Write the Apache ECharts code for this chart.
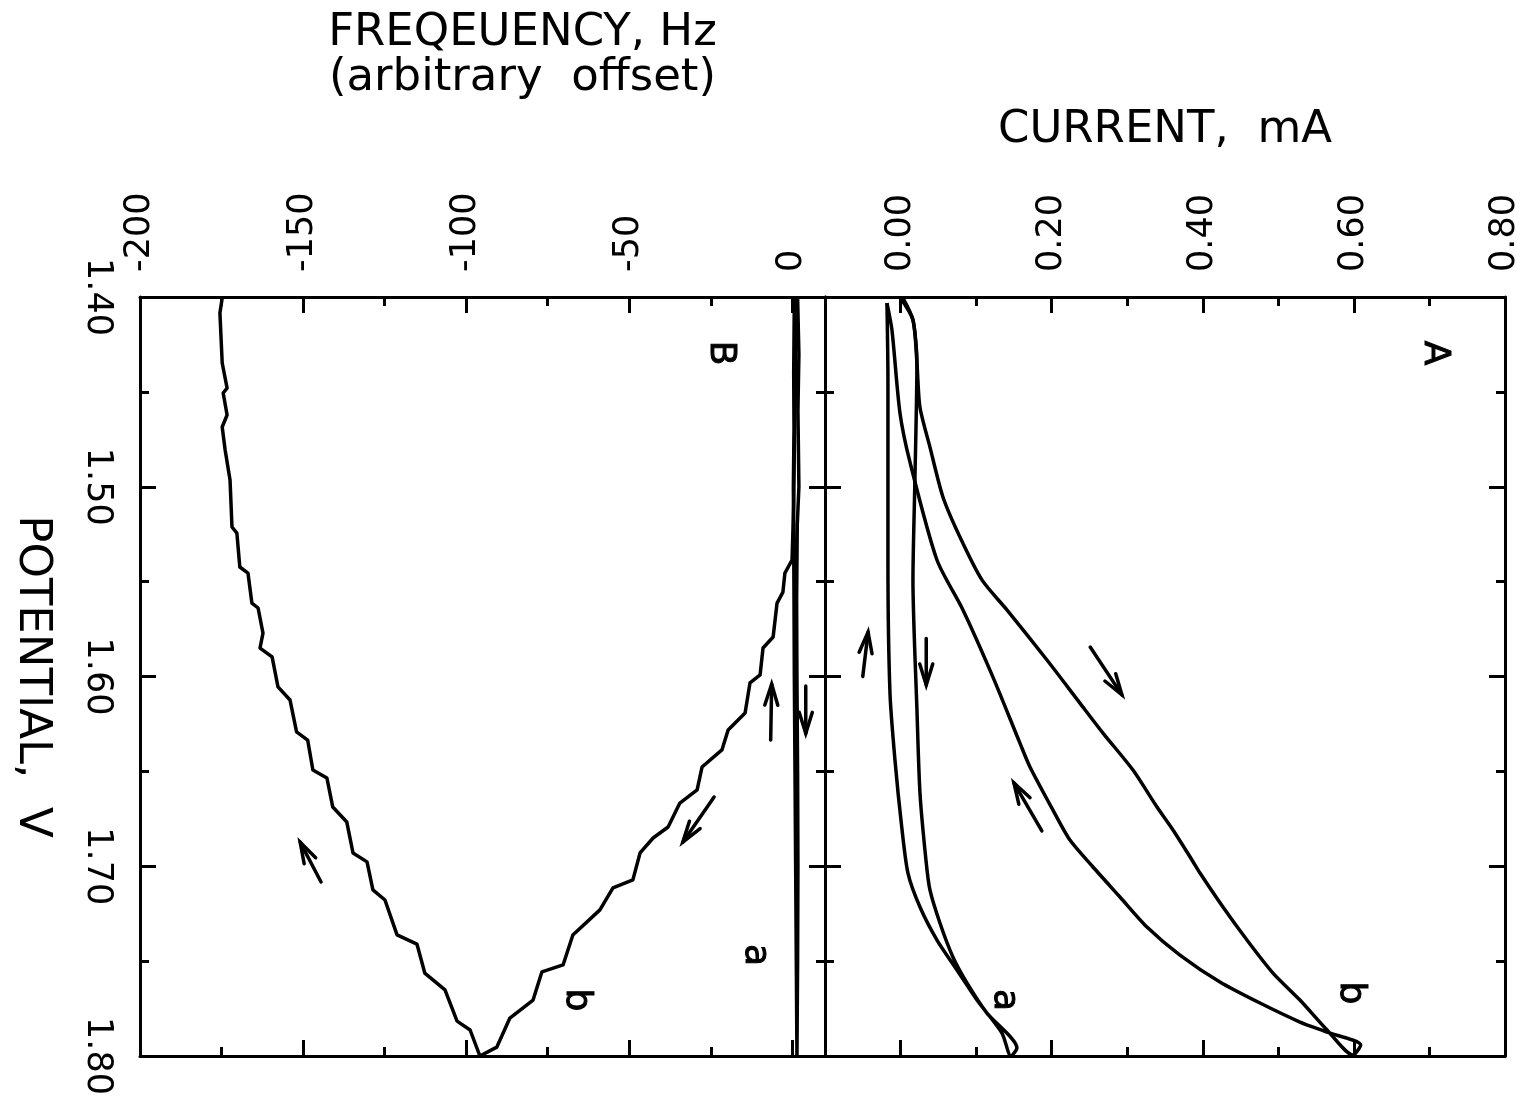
<!DOCTYPE html>
<html><head><meta charset="utf-8">
<script src="https://cdn.jsdelivr.net/npm/echarts@6/dist/echarts.min.js"></script>
<style>html,body{margin:0;padding:0;background:#fff}#c{width:1537px;height:1101px}</style>
</head><body><div id="c"></div>
<script>
// ---------- axis ticks / labels ----------
const potentialRange = [1.40, 1.80];
const freqRange = [-200, 10];
const freqMajor = [-200, -150, -100, -50, 0];
const freqMinor = [-175, -125, -75, -25];
const currRange = [-0.10, 0.80];
const currMajor = [0.00, 0.20, 0.40, 0.60, 0.80];
const currMinor = [0.10, 0.30, 0.50, 0.70];

// ---------- panel B: frequency (Hz) vs potential (V) ----------
const freqA_fwd = [[0.6,1.40],[0.5,1.42],[0.4,1.44],[0.5,1.47],[0.3,1.50],[0.4,1.53],[0.5,1.56],[0.6,1.60],[0.8,1.65],[1.0,1.70],[1.2,1.75],[1.4,1.80]];
const freqA_rev = [[1.4,1.80],[1.6,1.75],[1.7,1.70],[1.6,1.65],[1.4,1.60],[1.3,1.56],[1.5,1.52],[2.0,1.50],[1.7,1.46],[2.0,1.43],[1.6,1.40]];
const freqB_fwd = [[0.8,1.40],[1.0,1.44],[0.6,1.48],[0.4,1.51],[-0.1,1.5386],[-2.3,1.5455],[-2.9,1.5555],[-4.7,1.5613],[-5.9,1.5792],[-9.0,1.585],[-9.9,1.5992],[-13.0,1.6034],[-14.5,1.6192],[-19.7,1.6282],[-21.6,1.6387],[-27.7,1.6477],[-29.2,1.6598],[-34.5,1.6667],[-38.1,1.6793],[-42.7,1.6851],[-46.7,1.693],[-48.9,1.7072],[-55.0,1.7114],[-59.0,1.723],[-67.3,1.7362],[-70.3,1.752],[-76.8,1.7557],[-79.5,1.7705],[-86.6,1.78],[-90.6,1.7953],[-95.8,1.80]];
const freqB_rev = [[-95.8,1.80],[-98.8,1.7863],[-102.8,1.7816],[-106.5,1.7652],[-112.7,1.7563],[-115.1,1.741],[-121.2,1.7362],[-124.9,1.7178],[-128.6,1.7125],[-130.4,1.6977],[-134.7,1.693],[-136.6,1.6767],[-140.9,1.6688],[-142.7,1.6535],[-147.0,1.6493],[-148.6,1.6335],[-152.0,1.6292],[-154.0,1.6124],[-157.7,1.6055],[-159.5,1.5897],[-163.2,1.585],[-162.3,1.5771],[-163.8,1.5639],[-165.7,1.5613],[-166.9,1.5455],[-169.4,1.5423],[-170.3,1.5244],[-171.8,1.5212],[-172.4,1.4964],[-173.9,1.4806],[-174.8,1.4685],[-173.3,1.4622],[-174.5,1.4506],[-173.3,1.448],[-174.8,1.4348],[-175.5,1.4084],[-174.8,1.4005]];

// ---------- panel A: current (mA) vs potential (V) ----------
const currA_fwd = [[0.003,1.4005],[0.0164,1.4121],[0.0217,1.4348],[0.019,1.4964],[0.0164,1.5491],[0.0217,1.6176],[0.0257,1.6614],[0.0336,1.6967],[0.0389,1.7125],[0.0521,1.7299],[0.0693,1.7478],[0.0879,1.7615],[0.1143,1.7774],[0.154,1.7958]];
const currA_rev = [[0.146,1.80],[0.1342,1.7879],[0.1011,1.7705],[0.0747,1.7547],[0.0482,1.7389],[0.0257,1.7215],[0.0098,1.7036],[0.0015,1.6791],[-0.0074,1.644],[-0.014,1.6087],[-0.0167,1.5386],[-0.0167,1.4437],[-0.018,1.4032]];
const currB_fwd = [[-0.001,1.40],[0.0164,1.4121],[0.0217,1.4348],[0.0256,1.458],[0.0389,1.4791],[0.0561,1.5054],[0.0786,1.5265],[0.1077,1.5491],[0.1408,1.5649],[0.1938,1.5913],[0.2374,1.614],[0.2679,1.6298],[0.3076,1.6493],[0.3394,1.6688],[0.3606,1.6809],[0.3857,1.6967],[0.3963,1.7036],[0.4267,1.7215],[0.4585,1.7389],[0.4929,1.7563],[0.5286,1.7705],[0.5644,1.7863],[0.5988,1.7995]];
const currB_rev = [[0.609,1.7942],[0.5644,1.7874],[0.5286,1.7821],[0.4757,1.7721],[0.4227,1.761],[0.3698,1.7468],[0.3261,1.732],[0.2904,1.7162],[0.2547,1.7004],[0.2242,1.6862],[0.2017,1.6704],[0.1713,1.6477],[0.158,1.6351],[0.1223,1.6003],[0.0826,1.5649],[0.0482,1.5386],[0.0124,1.4869],[-0.0008,1.4611],[-0.0114,1.4174],[-0.018,1.4032]];

// ---------- sweep-direction arrows: [x0, V0, x1, V1] (tail -> head) ----------
const arrowsA = [[0.034,1.580,0.034,1.6045],[-0.050,1.600,-0.043,1.5766],[0.251,1.5845,0.293,1.6097],[0.187,1.6814,0.150,1.656]];
const arrowsB = [[-6.65,1.6335,-6.35,1.604],[4.1,1.605,4.1,1.630],[-24.0,1.6635,-33.6,1.6873],[-144.5,1.7083,-150.9,1.6873]];

// ---------- panel / curve letters ----------
const lettersA = [{name:'A', value:[0.707,1.4295]},{name:'a', value:[0.138,1.7705]},{name:'b', value:[0.595,1.7668]}];
const lettersB = [{name:'B', value:[-22.2,1.4295]},{name:'a', value:[-11.5,1.7468]},{name:'b', value:[-66.1,1.7705]}];

const FONT = "'DejaVu Sans', sans-serif";
const BLACK = '#000';
const LW = 3;
const CLW = 3.5;

function xAxesFor(gi, range, majors, minors, fmt, name, nameGap, namePad) {
  const base = {type:'value', gridIndex:gi, min:range[0], max:range[1], splitLine:{show:false},
    axisLine:{show:true, onZero:false, lineStyle:{color:BLACK, width:LW}}};
  const tick = (vals, len) => ({show:true, inside:true, length:len, customValues:vals, lineStyle:{color:BLACK, width:LW}});
  return [
    Object.assign({}, base, {position:'top', axisTick:tick(majors,16),
      axisLabel:{show:true, customValues:majors, formatter:fmt, rotate:-90, margin:25, fontSize:35, fontFamily:FONT, color:BLACK},
      name:name, nameLocation:'middle', nameGap:nameGap,
      nameTextStyle:{fontSize:45, fontFamily:FONT, color:BLACK, lineHeight:45, padding:namePad}}),
    Object.assign({}, base, {position:'top', axisLine:{show:false, onZero:false}, axisTick:tick(minors,9), axisLabel:{show:false}}),
    Object.assign({}, base, {position:'bottom', axisTick:tick(majors,16), axisLabel:{show:false}}),
    Object.assign({}, base, {position:'bottom', axisLine:{show:false, onZero:false}, axisTick:tick(minors,9), axisLabel:{show:false}})
  ];
}
function yAxisFor(gi, pos, showLabel) {
  const ax = {type:'value', gridIndex:gi, position:pos, inverse:true, min:potentialRange[0], max:potentialRange[1], interval:0.1,
    splitLine:{show:false},
    axisLine:{show:true, onZero:false, lineStyle:{color:BLACK, width:LW}},
    axisTick:{show:true, inside:true, length:16, lineStyle:{color:BLACK, width:LW}},
    minorTick:{show:true, splitNumber:2, length:9, lineStyle:{color:BLACK, width:LW}},
    axisLabel:{show:showLabel, rotate:-90, margin:25, fontSize:35, fontFamily:FONT, color:BLACK, formatter:v => v.toFixed(2)}};
  if (showLabel) {
    Object.assign(ax, {name:'POTENTIAL,  V', nameLocation:'middle', nameRotate:-90, nameGap:86,
      nameTextStyle:{fontSize:45, fontFamily:FONT, color:BLACK, lineHeight:45}});
  }
  return ax;
}

const xAxis = [].concat(
  xAxesFor(0, freqRange, freqMajor, freqMinor, v => String(v), 'FREQEUENCY, Hz\n(arbitrary  offset)', 196, [0,0,0,80]),
  xAxesFor(1, currRange, currMajor, currMinor, v => v.toFixed(2), 'CURRENT,  mA', 144, [0,0,0,0])
);
const yAxis = [yAxisFor(0,'left',true), yAxisFor(0,'right',false), yAxisFor(1,'left',false), yAxisFor(1,'right',false)];

function lineSeries(data, xi, yi, smooth) {
  return {type:'line', data:data, xAxisIndex:xi, yAxisIndex:yi, showSymbol:false, symbol:'none', smooth:smooth,
    lineStyle:{color:BLACK, width:CLW, join:'round'}, silent:true};
}
function arrowSeries(data, xi, yi) {
  return {type:'custom', xAxisIndex:xi, yAxisIndex:yi, data:data, silent:true,
    encode:{x:[0,2], y:[1,3]},
    renderItem:function(params, api){
      const p0 = api.coord([api.value(0), api.value(1)]);
      const p1 = api.coord([api.value(2), api.value(3)]);
      const ang = Math.atan2(p1[1]-p0[1], p1[0]-p0[0]);
      const hl = 22, ha = 0.30;
      const h1 = [p1[0]-hl*Math.cos(ang-ha), p1[1]-hl*Math.sin(ang-ha)];
      const h2 = [p1[0]-hl*Math.cos(ang+ha), p1[1]-hl*Math.sin(ang+ha)];
      return {type:'group', children:[
        {type:'line', shape:{x1:p0[0], y1:p0[1], x2:p1[0], y2:p1[1]}, style:{stroke:BLACK, lineWidth:CLW, lineCap:'round'}},
        {type:'polyline', shape:{points:[h1,p1,h2]}, style:{stroke:BLACK, lineWidth:CLW, fill:null, lineJoin:'miter', lineCap:'round'}}
      ]};
    }};
}
function letterSeries(data, xi, yi) {
  return {type:'scatter', xAxisIndex:xi, yAxisIndex:yi, data:data, symbolSize:0, silent:true,
    itemStyle:{color:BLACK, opacity:1},
    label:{show:true, position:'inside', formatter:'{b}', rotate:-90, fontSize:36, fontFamily:FONT,
      color:BLACK, opacity:1, textBorderWidth:1, textBorderColor:BLACK}};
}

const option = {
  animation:false,
  backgroundColor:'#fff',
  grid:[
    {left:140, top:297, width:685, height:759, containLabel:false},
    {left:825, top:297, width:680, height:759, containLabel:false}
  ],
  xAxis:xAxis,
  yAxis:yAxis,
  series:[
    lineSeries(freqA_fwd.concat(freqA_rev), 0, 0, false),
    lineSeries(freqB_fwd.concat(freqB_rev), 0, 0, false),
    lineSeries(currA_fwd.concat(currA_rev), 4, 2, 0.25),
    lineSeries(currB_fwd.concat(currB_rev), 4, 2, 0.25),
    arrowSeries(arrowsB, 0, 0),
    arrowSeries(arrowsA, 4, 2),
    letterSeries(lettersB, 0, 0),
    letterSeries(lettersA, 4, 2)
  ]
};
const chart = echarts.init(document.getElementById('c'), null, {renderer:'canvas'});
chart.setOption(option);
</script>
</body></html>
